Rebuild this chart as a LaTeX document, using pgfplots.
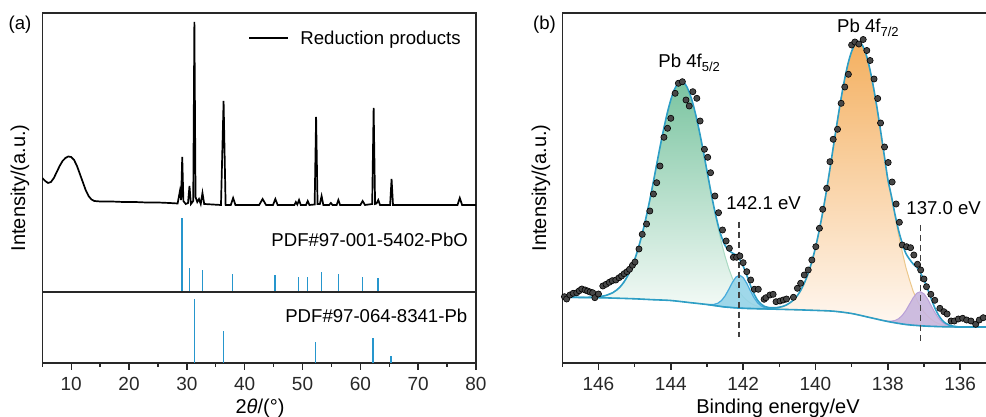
\documentclass[border=0pt]{standalone}
\usepackage{fontspec}
\setmainfont{Liberation Sans}
\usepackage{pgfplots}
\pgfplotsset{compat=1.18}
\definecolor{stickblue}{RGB}{38,150,205}
\definecolor{fitblue}{RGB}{45,158,198}
\definecolor{gtop}{RGB}{122,196,160}
\definecolor{gbot}{RGB}{244,250,247}
\definecolor{gline}{RGB}{170,218,195}
\definecolor{otop}{RGB}{244,176,96}
\definecolor{obot}{RGB}{255,248,242}
\definecolor{oline}{RGB}{236,200,140}
\definecolor{cfill}{RGB}{150,212,232}
\definecolor{cline}{RGB}{70,170,220}
\definecolor{pfill}{RGB}{200,182,222}
\definecolor{pline}{RGB}{185,160,215}
\definecolor{axcol}{RGB}{40,40,40}
\newcommand{\fa}{\fontsize{9.3}{11}\selectfont}
\newcommand{\fl}{\fontsize{10}{12}\selectfont}
\pgfplotsset{
  myaxis/.style={scale only axis, anchor=south west,
    axis line style={axcol, line width=0.7pt},
    tick style={axcol, line width=0.7pt}, tick align=outside,
    major tick length=3.5pt, minor tick length=2pt,
    tick label style={font=\fontsize{9.5}{11}\selectfont, text=axcol},
    /pgf/number format/assume math mode=true, ytick=\empty}
}
\begin{document}
\begin{tikzpicture}[x=0.5pt,y=0.5pt]
\useasboundingbox (0,0) rectangle (986,417);
% ---------- (a) upper: XRD + PbO ----------
\begin{axis}[myaxis, at={(21.15pt,62.5pt)}, width=216.85pt, height=139.5pt,
  xmin=5, xmax=80, ymin=0, ymax=279, xtick=\empty]
\addplot[black, line width=0.85pt] coordinates {
(5.0,114) (5.5,111) (6.0,109) (6.5,110) (7.0,114) (7.5,120) (8.0,126) (8.5,131) (9.0,134) (9.5,135.5) (10.0,135) (10.5,132) (11.0,126) (11.5,118) (12.0,110) (12.5,102) (13.0,96) (13.5,92.5) (14.0,91) (15.0,90.5) (17.0,90.5) (19.0,90) (21.0,90) (23.0,89.5) (25.0,89.5) (27.0,89) (28.4,88.5) (28.8,101) (29.0,92) (29.2,135) (29.4,91) (29.8,88) (30.2,89) (30.45,106) (30.7,88) (31.1,91) (31.3,270) (31.5,95) (31.8,90) (32.1,93) (32.4,88) (32.7,99) (33.0,88) (35.9,87) (36.35,191) (36.7,87) (37.6,87) (38.0,94) (38.4,87) (42.5,87) (43.1,93) (43.7,87) (44.9,87) (45.3,93) (45.7,87) (48.6,87) (48.85,90) (49.1,87.5) (49.4,92) (49.7,87) (50.6,87) (50.9,91) (51.2,87) (52.1,87.5) (52.35,175) (52.6,88) (53.0,88) (53.3,96) (53.6,87) (54.6,87) (54.9,89) (55.2,87) (55.9,87) (56.2,92) (56.5,87) (60.0,87) (60.4,91) (60.8,87) (62.05,88) (62.3,184) (62.55,88) (62.8,88.5) (63.1,92) (63.4,87) (65.15,87) (65.4,113) (65.65,87) (76.8,87) (77.2,94) (77.6,87) (80.0,87)};
\addplot[ycomb, stickblue, line width=0.8pt] coordinates {
(29.2,73.7) (30.47,23.7) (32.72,22) (37.9,18) (45.2,17.3) (49.3,15) (50.86,15) (53.28,20) (56.22,18) (60.4,15.3) (63.1,14)};
\end{axis}
% ---------- (a) lower: Pb ----------
\begin{axis}[myaxis, at={(21.15pt,27pt)}, width=216.85pt, height=35.5pt,
  xmin=5, xmax=80, ymin=0, ymax=71, xtick={10,20,...,80}, minor xtick={5,15,...,75}, xtick pos=left]
\addplot[ycomb, stickblue, line width=0.8pt] coordinates {
(31.33,63.7) (36.35,32) (52.25,21.3) (62.15,25) (65.27,7)};
\end{axis}
% ---------- (b) XPS ----------
\begin{axis}[myaxis, at={(281.15pt,27pt)}, width=217pt, height=175pt,
  xmin=135, xmax=147, x dir=reverse, ymin=0, ymax=350,
  xtick={136,138,...,146}, minor xtick={135,137,...,147}, xtick pos=left]
% Pb 4f5/2 component
\addplot[draw=gline, line width=0.5pt, top color=gtop, bottom color=gbot] coordinates {
(146.4,65.6) (146.2,65.8) (146.0,66.3) (145.8,67.5) (145.6,70.4) (145.5,72.9) (145.4,76.2) (145.3,80.7) (145.2,86.7) (145.1,94.1) (145.0,103.4) (144.9,114.6) (144.8,127.9) (144.7,142.9) (144.6,159.6) (144.5,177.7) (144.4,196.7) (144.3,215.5) (144.2,233.3) (144.1,249.5) (144.0,263.1) (143.9,273.4) (143.8,279.6) (143.7,281.4) (143.6,278.8) (143.5,271.7) (143.4,260.7) (143.3,246.5) (143.2,229.8) (143.1,211.4) (143.0,192.0) (142.9,172.4) (142.8,153.6) (142.7,136.2) (142.6,120.5) (142.5,106.6) (142.4,94.8) (142.3,85.0) (142.2,77.2) (142.1,70.9) (142.0,66.2) (141.9,62.7) (141.8,60.0) (141.7,58.1) (141.6,56.7) (141.5,55.8) (141.4,55.1) (141.3,54.6) (141.2,54.3) (141.0,53.7) (141.5,54.2) (142.0,54.7) (142.5,56.0) (143.0,58.5) (143.5,60.5) (144.0,62.5) (144.5,63.3) (145.0,64.2) (145.5,64.8) (146.0,65.3) (146.4,65.5)} -- cycle;
% Pb 4f7/2 component
\addplot[draw=oline, line width=0.5pt, top color=otop, bottom color=obot] coordinates {
(141.6,54.4) (141.4,54.4) (141.2,54.7) (141.0,55.7) (140.9,56.6) (140.8,58.1) (140.7,60.3) (140.6,63.3) (140.5,67.5) (140.4,73.1) (140.3,80.6) (140.2,89.7) (140.1,101.3) (140.0,115.4) (139.9,131.9) (139.8,150.6) (139.7,171.4) (139.6,194.0) (139.5,217.5) (139.4,240.7) (139.3,262.8) (139.2,282.6) (139.1,299.3) (139.0,311.6) (138.9,319.1) (138.8,321.0) (138.7,317.5) (138.6,308.5) (138.5,294.5) (138.4,276.5) (138.3,255.5) (138.2,232.3) (138.1,208.0) (138.0,183.5) (137.9,165.9) (137.8,146.3) (137.7,127.7) (137.6,111.1) (137.5,95.5) (137.4,83.2) (137.3,71.9) (137.2,63.6) (137.1,56.3) (137.0,51.0) (136.9,46.9) (136.8,43.7) (136.7,41.1) (136.6,39.5) (136.5,38.3) (136.4,37.5) (136.3,36.9) (136.2,36.5) (136.0,36.0) (136.5,36.3) (137.0,37.0) (137.5,38.5) (138.0,41.5) (138.5,45.5) (139.0,49.5) (139.5,51.8) (140.0,52.6) (140.5,53.2) (141.0,53.7) (141.6,54.3)} -- cycle;
% 142.1 eV component
\addplot[draw=cline, line width=0.6pt, fill=cfill, fill opacity=0.9] coordinates {
(143.0,58.6) (142.9,58.4) (142.8,58.6) (142.7,59.8) (142.6,62.4) (142.5,67.0) (142.4,73.4) (142.3,80.4) (142.2,85.8) (142.1,87.8) (142.0,85.5) (141.9,79.7) (141.8,72.3) (141.7,65.4) (141.6,60.2) (141.5,57.0) (141.4,55.2) (141.3,54.4) (141.2,54.0) (141.1,53.8) (141.5,54.2) (142.0,54.7) (142.5,56.0) (143.0,58.5)} -- cycle;
% 137.0 eV component
\addplot[draw=pline, line width=0.5pt, fill=pfill, fill opacity=0.9] coordinates {
(138.1,42.4) (138.0,41.9) (137.9,41.9) (137.8,42.5) (137.7,44.3) (137.6,47.6) (137.5,52.5) (137.4,58.8) (137.3,65.1) (137.2,69.8) (137.1,71.3) (137.0,69.2) (136.9,64.1) (136.8,57.3) (136.7,50.6) (136.6,45.0) (136.5,40.9) (136.4,38.5) (136.3,37.2) (136.2,36.5) (136.1,36.2) (136.5,36.3) (137.0,37.0) (137.5,38.5) (138.0,41.5) (138.1,42.3)} -- cycle;
% background
\addplot[fitblue, line width=0.8pt, smooth] coordinates {
(147.0,66.0) (146.5,65.5) (146.0,65.3) (145.5,64.8) (145.0,64.2) (144.5,63.3) (144.0,62.5) (143.5,60.5) (143.0,58.5) (142.5,56.0) (142.0,54.7) (141.5,54.2) (141.0,53.7) (140.5,53.2) (140.0,52.6) (139.5,51.8) (139.0,49.5) (138.5,45.5) (138.0,41.5) (137.5,38.5) (137.0,37.0) (136.5,36.3) (136.0,36.0) (135.0,36.0)};
% envelope
\addplot[fitblue, line width=0.8pt, smooth, tension=0.5] coordinates {
(147.0,66.0) (146.8,65.8) (146.6,65.7) (146.4,65.6) (146.2,65.8) (146.0,66.3) (145.8,67.5) (145.6,70.4) (145.5,72.9) (145.4,76.2) (145.3,80.7) (145.2,86.7) (145.1,94.1) (145.0,103.4) (144.9,114.6) (144.8,127.9) (144.7,142.9) (144.6,159.6) (144.5,177.7) (144.4,196.7) (144.3,215.5) (144.2,233.3) (144.1,249.5) (144.0,263.1) (143.9,273.4) (143.8,279.6) (143.7,281.4) (143.6,278.8) (143.5,271.7) (143.4,260.7) (143.3,246.5) (143.2,229.8) (143.1,211.4) (143.0,192.1) (142.9,172.8) (142.8,154.7) (142.7,139.0) (142.6,126.4) (142.5,117.6) (142.4,112.6) (142.3,110.1) (142.2,108.0) (142.1,103.9) (142.0,97.0) (141.9,87.8) (141.8,77.8) (141.7,69.1) (141.6,62.7) (141.5,58.8) (141.4,56.5) (141.3,55.5) (141.2,55.2) (141.1,55.2) (141.0,55.8) (140.9,56.6) (140.8,58.1) (140.7,60.3) (140.6,63.3) (140.5,67.5) (140.4,73.1) (140.3,80.6) (140.2,89.7) (140.1,101.3) (140.0,115.4) (139.9,131.9) (139.8,150.6) (139.7,171.4) (139.6,194.0) (139.5,217.5) (139.4,240.7) (139.3,262.8) (139.2,282.6) (139.1,299.3) (139.0,311.6) (138.9,319.1) (138.8,321.0) (138.7,317.5) (138.6,308.5) (138.5,294.5) (138.4,276.5) (138.3,255.5) (138.2,232.3) (138.1,208.1) (138.0,183.9) (137.9,166.9) (137.8,148.5) (137.7,132.3) (137.6,119.6) (137.5,109.5) (137.4,103.8) (137.3,99.1) (137.2,95.8) (137.1,90.3) (137.0,83.2) (136.9,74.1) (136.8,64.3) (136.7,55.1) (136.6,48.0) (136.5,42.9) (136.4,39.7) (136.3,37.9) (136.2,36.9) (136.1,36.4) (136.0,36.0) (135.5,36.0) (135.0,36.0)};
% dashed markers
\addplot[black!75, line width=0.75pt, dash pattern=on 3pt off 2pt] coordinates {(142.12,141.3) (142.12,26)};
\addplot[black!75, line width=0.75pt, dash pattern=on 3pt off 2pt] coordinates {(137.1,138) (137.1,21)};
% measured points
\addplot[only marks, mark=*, mark size=1.55pt, mark options={draw=black, fill=black!72, line width=0.3pt}] coordinates {
(146.94,66.3) (146.88,64) (146.79,68) (146.70,69.7) (146.60,70.3) (146.53,72.3) (146.46,74) (146.37,73) (146.30,72) (146.23,71) (146.16,70.3) (146.10,65.3) (146.00,69) (145.88,77) (145.79,78.7) (145.70,80.7) (145.62,82.3) (145.52,83) (145.43,85.3) (145.36,87) (145.29,89.3) (145.21,91.3) (145.14,93.7) (145.06,97.7) (144.99,101) (144.88,114) (144.79,128.7) (144.67,139) (144.58,152) (144.48,169) (144.39,180.3) (144.30,197) (144.19,225.7) (144.09,234.7) (144.00,244.7) (143.88,269.7) (143.79,279.7) (143.68,281.3) (143.58,263) (143.49,257) (143.39,271.3) (143.28,264.7) (143.19,242) (143.07,213.7) (142.98,205.7) (142.90,190.3) (142.78,167) (142.68,150.3) (142.57,133) (142.47,122) (142.38,114.7) (142.27,105.7) (142.18,105.7) (142.09,107) (142.00,100.3) (141.90,91.3) (141.79,83) (141.69,73.7) (141.58,73.7) (141.42,63.7) (141.37,65.3) (141.26,68) (141.17,68.7) (141.09,61.3) (140.98,62) (140.89,63) (140.80,64) (140.61,65.7) (140.50,74.7) (140.41,79.7) (140.31,88) (140.20,93) (140.10,103) (139.99,116.3) (139.89,134.7) (139.80,153.7) (139.69,174.7) (139.60,201.3) (139.51,223.7) (139.39,233.7) (139.29,259.7) (139.19,276) (139.09,288.7) (139.00,318) (138.91,321) (138.80,319) (138.68,323.5) (138.58,312.5) (138.49,302.5) (138.38,284) (138.28,264.5) (138.20,240) (138.09,216) (137.99,200.5) (137.88,181) (137.77,159) (137.68,140.7) (137.60,118) (137.48,116.3) (137.37,115.3) (137.28,108) (137.18,98.7) (137.09,93) (137.00,84) (136.93,76.3) (136.81,68.7) (136.70,62.7) (136.56,54.7) (136.45,51.3) (136.36,49) (136.25,42) (136.16,42) (136.05,44) (135.93,44.7) (135.82,43) (135.70,42) (135.57,38.7) (135.47,43) (135.36,45.3)};
\end{axis}
% ---------- texts ----------
\node[anchor=base west, inner sep=0, font=\fa] at (8.3,387) {(a)};
\node[anchor=base west, inner sep=0, font=\fa] at (532.7,387) {(b)};
\draw[black, line width=0.8pt] (249,379) -- (288,379);
\node[anchor=base west, inner sep=0, font=\fa] at (300,372) {Reduction products};
\node[anchor=base east, inner sep=0, font=\fa] at (468.3,170) {PDF\#97-001-5402-PbO};
\node[anchor=base east, inner sep=0, font=\fa] at (467.7,94) {PDF\#97-064-8341-Pb};
\node[rotate=90, font=\fl] at (20,229) {Intensity/(a.u.)};
\node[rotate=90, font=\fl] at (541,229) {Intensity/(a.u.)};
\node[anchor=north, inner sep=0, font=\fl] at (260,18.5) {2\textit{θ}/(°)};
\node[anchor=north, inner sep=0, font=\fl] at (778,18.5) {Binding energy/eV};
\node[anchor=base west, inner sep=0, font=\fa] at (658,349) {Pb 4f\textsubscript{5/2}};
\node[anchor=base west, inner sep=0, font=\fa] at (836.7,384) {Pb 4f\textsubscript{7/2}};
\node[anchor=base west, inner sep=0, font=\fa] at (726,207) {142.1 eV};
\node[anchor=base west, inner sep=0, font=\fa] at (906,202) {137.0 eV};
\end{tikzpicture}
\end{document}
